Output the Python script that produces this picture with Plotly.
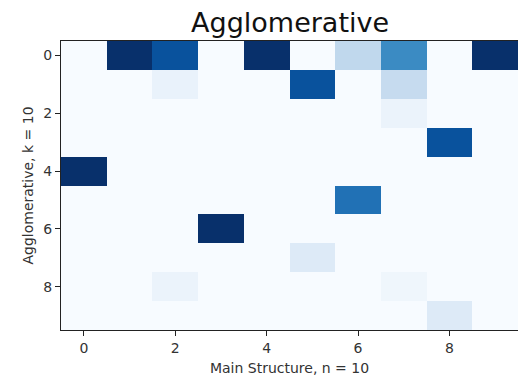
import plotly.graph_objects as go

cols = list(range(10))
rows = list(range(10))
values = [
    [0.0, 1.0, 0.87, 0.0, 1.0, 0.0, 0.27, 0.65, 0.0, 1.0],
    [0.0, 0.0, 0.07, 0.0, 0.0, 0.87, 0.0, 0.25, 0.0, 0.0],
    [0.0, 0.0, 0.0, 0.0, 0.0, 0.0, 0.0, 0.06, 0.0, 0.0],
    [0.0, 0.0, 0.0, 0.0, 0.0, 0.0, 0.0, 0.0, 0.87, 0.0],
    [1.0, 0.0, 0.0, 0.0, 0.0, 0.0, 0.0, 0.0, 0.0, 0.0],
    [0.0, 0.0, 0.0, 0.0, 0.0, 0.0, 0.75, 0.0, 0.0, 0.0],
    [0.0, 0.0, 0.0, 1.0, 0.0, 0.0, 0.0, 0.0, 0.0, 0.0],
    [0.0, 0.0, 0.0, 0.0, 0.0, 0.13, 0.0, 0.0, 0.0, 0.0],
    [0.0, 0.0, 0.06, 0.0, 0.0, 0.0, 0.0, 0.04, 0.0, 0.0],
    [0.0, 0.0, 0.0, 0.0, 0.0, 0.0, 0.0, 0.0, 0.13, 0.0],
]
tick_vals = [0, 2, 4, 6, 8]

blues = [
    [0.0, "#f7fbff"], [0.125, "#deebf7"], [0.25, "#c6dbef"], [0.375, "#9ecae1"],
    [0.5, "#6baed6"], [0.625, "#4292c6"], [0.75, "#2171b5"], [0.875, "#08519c"],
    [1.0, "#08306b"],
]

fig = go.Figure(go.Heatmap(
    z=values, x=cols, y=rows, colorscale=blues, zmin=0, zmax=1,
    showscale=False, xgap=0, ygap=0,
))

font = dict(family="DejaVu Sans", size=14, color="#333")
axis_common = dict(
    showgrid=False, zeroline=False, showline=True, linecolor="#222", linewidth=1,
    mirror=True, ticks="outside", ticklen=5, tickcolor="#222", tickfont=font,
    tickvals=tick_vals,
)
fig.update_layout(
    width=518, height=377,
    margin=dict(l=61, r=0, t=41, b=47),
    plot_bgcolor="white", paper_bgcolor="white",
    title=dict(text="Agglomerative", x=0.56, xanchor="center", y=0.94, yanchor="middle",
               font=dict(family="DejaVu Sans", size=27, color="#111")),
    xaxis=dict(range=[-0.5, 9.5], title=dict(text="Main Structure, n = 10", font=font, standoff=8), **axis_common),
    yaxis=dict(range=[9.5, -0.5], title=dict(text="Agglomerative, k = 10", font=font, standoff=6), **axis_common),
)
fig.write_html("out.html")
